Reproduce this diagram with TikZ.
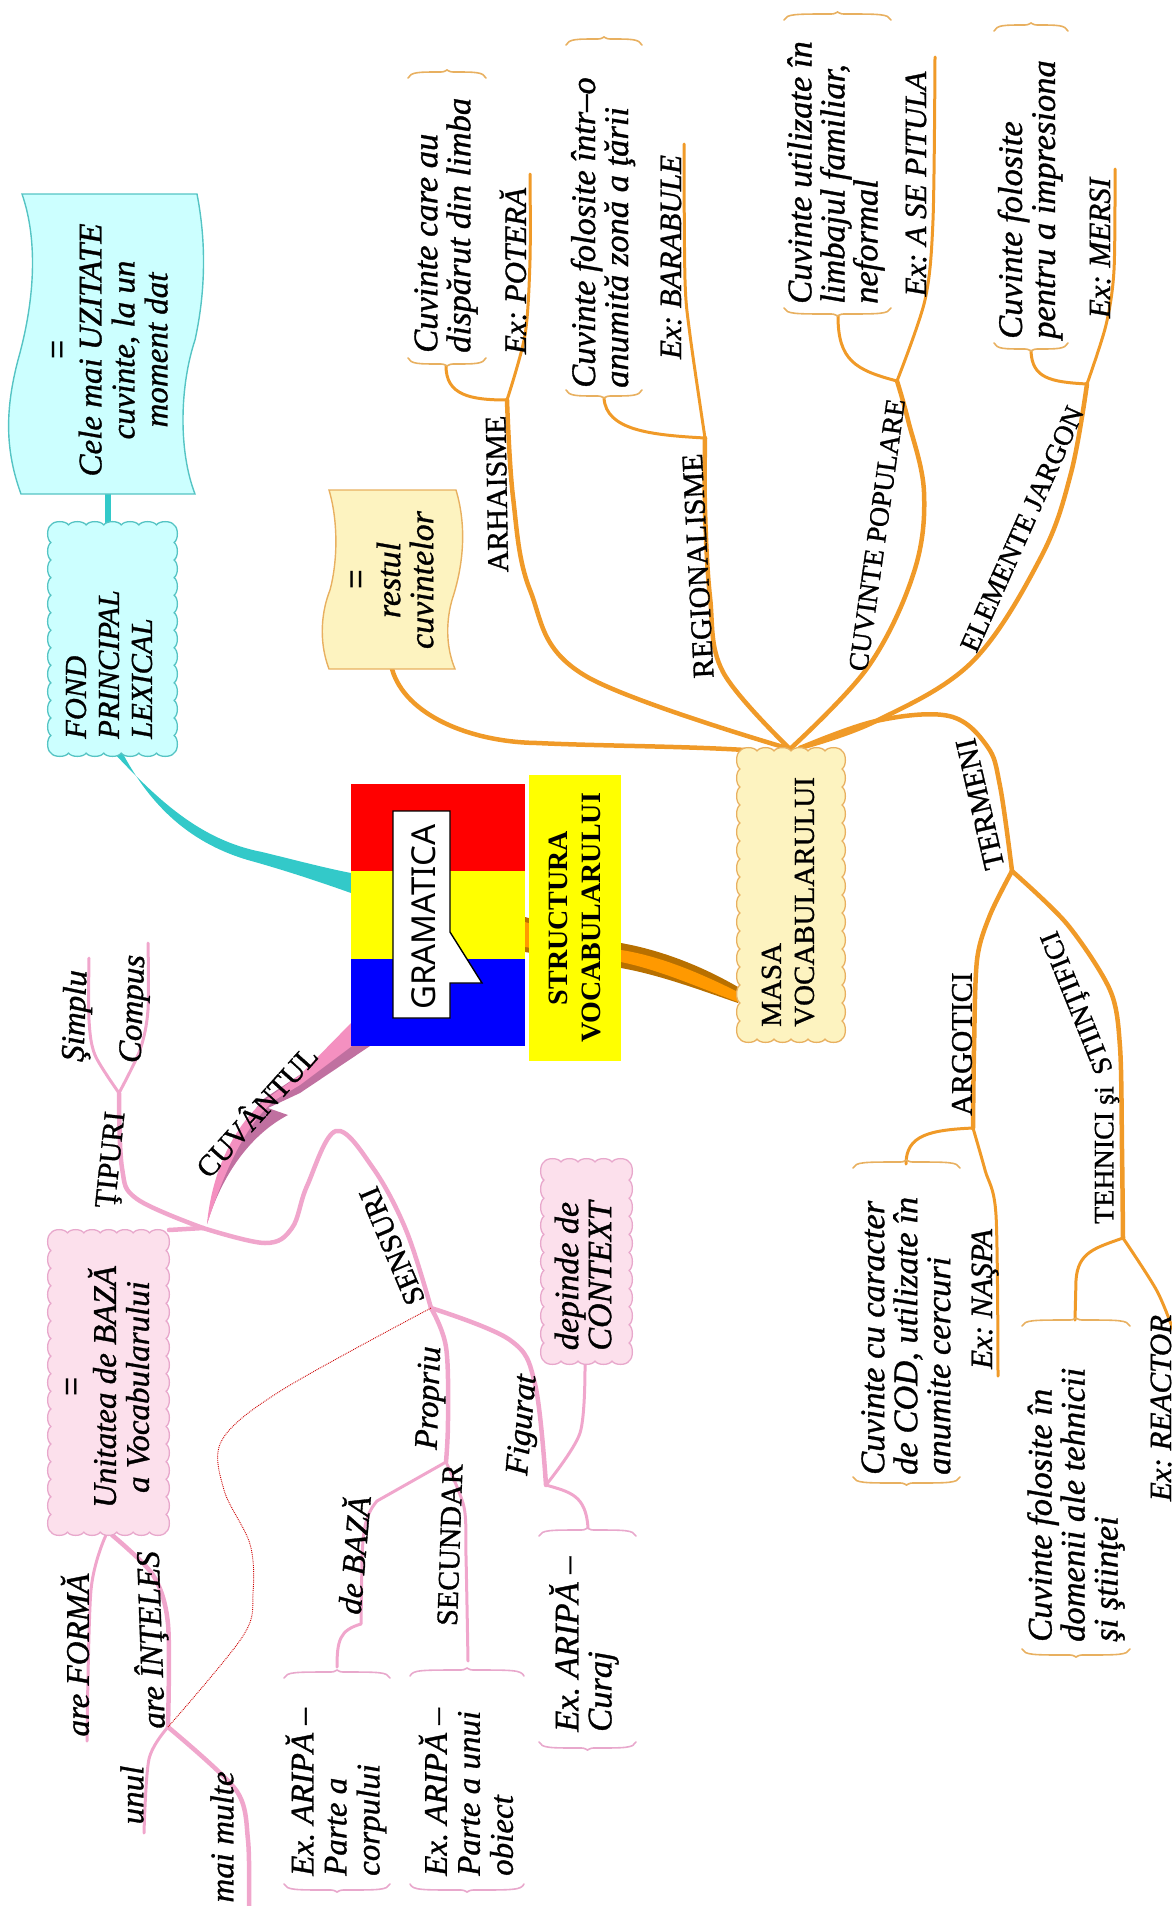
\documentclass[tikz,border=0pt]{standalone}
\usepackage{fontspec}
\setmainfont{Liberation Serif}[UprightFeatures={FakeBold=1},ItalicFeatures={FakeBold=1}]
\newfontfamily\eqfont{Liberation Sans}
\newfontfamily\handfont{Noto Sans}
\definecolor{orl}{HTML}{F09A28}
\definecolor{pil}{HTML}{F0A6CC}
\definecolor{tea}{HTML}{33C9C9}
\definecolor{teab}{HTML}{CCFFFF}
\definecolor{teas}{HTML}{55C4C4}
\definecolor{yelb}{HTML}{FDF3C0}
\definecolor{yels}{HTML}{E8B060}
\definecolor{pib}{HTML}{FCE0EC}
\definecolor{pis}{HTML}{E8A8CC}
\definecolor{flagr}{RGB}{255,0,0}
\definecolor{flagy}{RGB}{255,255,0}
\definecolor{flagb}{RGB}{0,0,255}
\definecolor{ormain}{HTML}{FF9900}
\definecolor{ordark}{HTML}{B87000}
\definecolor{pimain}{HTML}{F490C0}
\definecolor{pidark}{HTML}{C070A0}
\tikzset{
 x=1pt,y=-1pt,
 trunk/.style={line width=4.5pt,line cap=round,line join=round},
 leaf/.style={line width=3pt,line cap=round,line join=round},
 ortr/.style={trunk,draw=orl},
 orlf/.style={leaf,draw=orl},
 pitr/.style={trunk,draw=pil},
 pilf/.style={leaf,draw=pil},
 tx/.style={rotate=90,inner sep=0pt,align=left,anchor=west,font=\fontsize{34.5}{33}\selectfont\itshape},
 txc/.style={rotate=90,inner sep=0pt,align=center,font=\fontsize{33}{33}\selectfont\itshape},
 lab/.style={inner sep=0pt,font=\fontsize{30}{33}\selectfont},
 labs/.style={inner sep=0pt,font=\fontsize{28}{33}\selectfont},
 labi/.style={inner sep=0pt,font=\fontsize{33}{33}\selectfont\itshape},
 labe/.style={inner sep=0pt,font=\fontsize{31}{33}\selectfont\itshape},
 brkt/.style={draw=#1,line width=1.6pt,line cap=round},
 wave/.style={line width=1.4pt},
}
\newcommand{\brk}[5]{% colour, x1, x2, ytop, ybot
 \pgfmathsetmacro{\xm}{(#2+#3)/2}
 \draw[brkt=#1] (#2,#4+8) .. controls (#2+3,#4+2) and (#2+10,#4+2) .. (\xm-6,#4+2) .. controls (\xm-2,#4+2) and (\xm-1,#4) .. (\xm,#4) .. controls (\xm+1,#4) and (\xm+2,#4+2) .. (\xm+6,#4+2) .. controls (#3-10,#4+2) and (#3-3,#4+2) .. (#3,#4+8);
 \draw[brkt=#1] (#2,#5-8) .. controls (#2+3,#5-2) and (#2+10,#5-2) .. (\xm-6,#5-2) .. controls (\xm-2,#5-2) and (\xm-1,#5) .. (\xm,#5) .. controls (\xm+1,#5) and (\xm+2,#5-2) .. (\xm+6,#5-2) .. controls (#3-10,#5-2) and (#3-3,#5-2) .. (#3,#5-8);
}
% scalloped outline: stroke, fill, x1, y1, x2, y2, bumps across, bumps along
\newcommand{\scal}[8]{%
 \pgfmathsetmacro{\dx}{(#5-#3)/#7}
 \pgfmathsetmacro{\dy}{(#6-#4)/#8}
 \draw[draw=#1,fill=#2,line width=1.3pt,line join=round] (#3,#4)
  \foreach \i in {1,...,#7} { .. controls (#3+\i*\dx-.85*\dx,#4-4.5) and (#3+\i*\dx-.15*\dx,#4-4.5) .. (#3+\i*\dx,#4) }
  \foreach \i in {1,...,#8} { .. controls (#5+4.5,#4+\i*\dy-.85*\dy) and (#5+4.5,#4+\i*\dy-.15*\dy) .. (#5,#4+\i*\dy) }
  \foreach \i in {1,...,#7} { .. controls (#5-\i*\dx+.85*\dx,#6+4.5) and (#5-\i*\dx+.15*\dx,#6+4.5) .. (#5-\i*\dx,#6) }
  \foreach \i in {1,...,#8} { .. controls (#3-4.5,#6-\i*\dy+.85*\dy) and (#3-4.5,#6-\i*\dy+.15*\dy) .. (#3,#6-\i*\dy) }
  -- cycle;
}
\begin{document}
\frenchspacing
\begin{tikzpicture}
\useasboundingbox (0,0) rectangle (1171,1906);
% junctions
\coordinate (hub) at (790,749);
\coordinate (hubr) at (800,748);
\coordinate (ar) at (507,400);
\coordinate (re) at (705,438);
\coordinate (cp) at (897,381);
\coordinate (ej) at (1087,384);
\coordinate (tj) at (1012,871);
\coordinate (ag) at (973,1128);
\coordinate (th) at (1123,1238);
\coordinate (cw) at (203,1228);
\coordinate (ti) at (119,1093);
\coordinate (ss) at (431,1308);
\coordinate (pp) at (446,1462);
\coordinate (ff) at (546,1485);
\coordinate (aa) at (168,1727);
% ---- tapered connectors
\fill[tea] (113,752) .. controls (158,800) and (200,840) .. (262,852) .. controls (295,860) and (325,868) .. (351,873) -- (351,893) .. controls (320,882) and (290,872) .. (255,862) .. controls (190,845) and (150,805) .. (122,752) -- cycle;
\fill[tea] (105,494) rectangle (111,524);
\fill[ordark] (525,917) -- (525,952) -- (621,968) .. controls (660,975) and (700,990) .. (738,1003) -- (738,987) .. controls (700,965) and (660,950) .. (621,943) -- cycle;
\fill[ormain] (525,922) -- (525,947) -- (621,962) .. controls (660,970) and (700,988) .. (738,1002) -- (738,992) .. controls (700,973) and (660,956) .. (621,950) -- cycle;
\fill[pidark] (352,1040) -- (370,1046) -- (300,1093) -- (268,1108) -- (288,1115) .. controls (250,1135) and (222,1175) .. (207,1224) .. controls (218,1170) and (240,1130) .. (262,1100) -- cycle;
\fill[pimain] (352,1022) -- (352,1046) -- (300,1085) -- (275,1100) .. controls (245,1125) and (225,1170) .. (207,1224) .. controls (212,1170) and (235,1125) .. (265,1100) -- (300,1075) -- cycle;
% ---- orange branches
\draw[ortr] (392,669) .. controls (405,715) and (470,742) .. (537,743) .. controls (600,746) and (680,746) .. (745,750);
\draw[ortr] plot[smooth,tension=.6] coordinates {(hub) (584,675) (530,590) (513,497) (ar)};
\draw[orlf] (ar) .. controls (470,400) and (446,395) .. (446,366);
\draw[orlf] plot[smooth,tension=.5] coordinates {(ar) (525,335) (530,260) (530,174)};
\draw[ortr] plot[smooth,tension=.6] coordinates {(hub) (723,672) (710,597) (705,510) (re)};
\draw[orlf] (re) .. controls (650,435) and (606,430) .. (604,398);
\draw[orlf] plot[smooth,tension=.5] coordinates {(re) (690,335) (685,280) (684,144)};
\draw[ortr] plot[smooth,tension=.6] coordinates {(hub) (868,667) (914,572) (924,492) (908,420) (cp)};
\draw[orlf] (cp) .. controls (855,370) and (838,360) .. (838,316);
\draw[orlf] plot[smooth,tension=.5] coordinates {(cp) (925,300) (933,220) (935,57)};
\draw[ortr] plot[smooth,tension=.6] coordinates {(hubr) (876,721) (972,662) (1041,557) (1071,473) (ej)};
\draw[orlf] (ej) .. controls (1050,382) and (1032,378) .. (1031,351);
\draw[orlf] plot[smooth,tension=.5] coordinates {(ej) (1106,325) (1114,270) (1115,169)};
\draw[ortr] plot[smooth,tension=.6] coordinates {(hubr) (876,721) (949,716) (987,746) (1000,786) (tj)};
\draw[ortr] plot[smooth,tension=.5] coordinates {(tj) (990,915) (977,960) (974,1050) (ag)};
\draw[orlf] (ag) .. controls (930,1130) and (906,1135) .. (906,1164);
\draw[orlf] plot[smooth,tension=.5] coordinates {(ag) (985,1170) (996,1215) (998,1376)};
\draw[ortr] plot[smooth,tension=.5] coordinates {(tj) (1067,924) (1110,990) (1120,1047) (1122,1150) (th)};
\draw[orlf] (th) .. controls (1095,1248) and (1078,1252) .. (1076,1280) -- (1075,1320);
\draw[orlf] plot[smooth,tension=.5] coordinates {(th) (1157,1291) (1175,1335)};
% ---- pink branches
\draw[pitr] (169,1230) -- (cw);
\draw[pitr] plot[smooth,tension=.6] coordinates {(cw) (137,1199) (122,1168) (ti)};
\draw[pilf] plot[smooth,tension=.5] coordinates {(ti) (95,1055) (89,1020) (89,958)};
\draw[pilf] plot[smooth,tension=.5] coordinates {(ti) (140,1050) (148,1010) (148,943)};
\draw[pitr] plot[smooth,tension=.6] coordinates {(cw) (265,1243) (292,1228) (307,1186) (336,1131) (373,1168) (406,1230) (ss)};
\draw[pitr] plot[smooth,tension=.6] coordinates {(ss) (446,1347) (448,1420) (pp)};
\draw[pitr] plot[smooth,tension=.6] coordinates {(ss) (510,1340) (535,1384) (ff)};
\draw[pilf] plot[smooth,tension=.5] coordinates {(ff) (580,1433) (585,1365)};
\draw[pilf] (ff) .. controls (570,1492) and (586,1495) .. (588,1528);
\draw[pilf] (pp) -- (377,1501) .. controls (365,1515) and (363,1530) .. (362,1560) -- (361,1624) .. controls (340,1630) and (337,1640) .. (337,1667);
\draw[pilf] plot[smooth,tension=.5] coordinates {(pp) (464,1507) (466,1556) (468,1661)};
\draw[pilf] plot[smooth,tension=.5] coordinates {(106,1535) (91,1590) (87,1741)};
\draw[pitr] plot[smooth,tension=.5] coordinates {(112,1535) (153,1575) (168,1624) (aa)};
\draw[pilf] plot[smooth,tension=.5] coordinates {(aa) (149,1759) (144,1833)};
\draw[pitr] plot[smooth,tension=.5] coordinates {(aa) (236,1790) (248,1840) (249,1906)};
% dotted link
\draw[red!80!black,line width=.9pt,densely dotted] plot[smooth,tension=.55] coordinates {(ss) (282,1390) (222,1440) (224,1490) (250,1544) (253,1593) (243,1636) (aa)};
% ---- flag
\fill[flagr] (351,784) rectangle (525,871);
\fill[flagy] (351,871) rectangle (525,959);
\fill[flagb] (351,959) rectangle (525,1046);
\draw[black,line width=1.4pt,fill=white] (393,811) -- (450,811) -- (450,932) -- (482,983) -- (450,983) -- (450,1018) -- (393,1018) -- cycle;
\node[rotate=90,inner sep=0pt,font=\handfont\fontsize{33}{36}\selectfont] (gram) at (424,917) {GRAMATICA};
\node[rotate=90,fill=flagy,minimum width=286pt,minimum height=92pt,inner sep=0pt,align=center,font=\fontsize{28}{33}\selectfont\bfseries] (struct) at (575,918) {STRUCTURA\\VOCABULARULUI};
% ---- wave boxes
\draw[wave,draw=teas,fill=teab] (22,194) -- (197,194) .. controls (206,240) and (206,290) .. (195,340) .. controls (180,385) and (178,450) .. (195,494) -- (21,494) .. controls (5,450) and (5,410) .. (18,360) .. controls (35,300) and (38,240) .. (22,194) -- cycle;
\node[txc] (cele) at (110,350) {{\eqfont\upshape =}\\Cele mai UZITATE\\cuvinte, la un\\moment dat};
\draw[wave,draw=yels,fill=yelb] (329,490) -- (456,490) .. controls (468,530) and (462,570) .. (452,600) .. controls (445,625) and (447,650) .. (455,669) -- (329,669) .. controls (318,640) and (322,610) .. (330,590) .. controls (338,560) and (338,520) .. (329,490) -- cycle;
\node[txc,font=\fontsize{34}{33}\selectfont\itshape] (rest) at (392,580) {{\eqfont\upshape =}\\restul\\cuvintelor};
% ---- scalloped boxes
\scal{teas}{teab}{51}{525}{174}{753}{7}{13}
\node[tx,font=\fontsize{30.5}{33}\selectfont\itshape] (fond) at (109,739) {FOND\\PRINCIPAL\\LEXICAL};
\scal{yels}{yelb}{740}{751}{842}{1039}{6}{16}
\node[tx,font=\fontsize{29}{33}\selectfont] (masa) at (788,1027) {MASA\\VOCABULARULUI};
\scal{pis}{pib}{51}{1233}{166}{1532}{7}{17}
\node[txc] (unit) at (108,1387) {{\eqfont\upshape =}\\Unitatea de BAZĂ\\a Vocabularului};
\scal{pis}{pib}{544}{1162}{629}{1361}{5}{11}
\node[txc,font=\fontsize{34}{33}\selectfont\itshape] (ctx) at (583,1276) {depinde de\\CONTEXT};
% ---- brackets
\brk{yels}{408}{486}{70}{366}
\brk{yels}{566}{642}{37}{398}
\brk{yels}{784}{891}{12}{316}
\brk{yels}{994}{1068}{23}{351}
\brk{yels}{853}{960}{1160}{1485}
\brk{yels}{1022}{1130}{1318}{1657}
\brk{pis}{539}{636}{1528}{1750}
\brk{pis}{284}{390}{1670}{1892}
\brk{pis}{410}{524}{1668}{1892}
% ---- texts
\node[tx] (t1) at (446,353) {Cuvinte care au\\dispărut din limba};
\node[tx] (t2) at (603,388) {Cuvinte folosite într–o\\anumită zonă a ţării};
\node[tx] (t3) at (836,304) {Cuvinte utilizate în\\limbajul familiar,\\neformal};
\node[tx] (t4) at (1030,339) {Cuvinte folosite\\pentru a impresiona};
\node[tx] (t5) at (906,1475) {Cuvinte cu caracter\\de COD, utilizate în\\anumite cercuri};
\node[tx] (t6) at (1076,1642) {Cuvinte folosite în\\domenii ale tehnicii\\şi ştiinţei};
\node[tx] (t7) at (584,1732) {Ex. ARIPĂ –\\Curaj};
\node[tx,font=\fontsize{33}{33}\selectfont\itshape] (t8) at (336,1876) {Ex. ARIPĂ –\\Parte a\\corpului};
\node[tx,font=\fontsize{33}{33}\selectfont\itshape] (t9) at (466,1876) {Ex. ARIPĂ –\\Parte a unui\\obiect};
\node[labe,rotate=90] (e1) at (513,271) {Ex: POTERĂ};
\node[labe,rotate=90] (e2) at (671,257) {Ex: BARABULE};
\node[labe,rotate=90] (e3) at (916,184) {Ex: A SE PITULA};
\node[labe,rotate=90] (e4) at (1100,248) {Ex: MERSI};
\node[labe,rotate=90] (e5) at (985,1299) {Ex: NAŞPA};
\node[labe,rotate=90] (e6) at (1161,1408) {Ex: REACTOR};
\node[lab,rotate=91] (l1) at (497,494) {ARHAISME};
\node[lab,rotate=93] (l2) at (698,566) {REGIONALISME};
\node[labs,rotate=82] (l3) at (877,535) {CUVINTE POPULARE};
\node[labs,rotate=66] (l4) at (1022,529) {ELEMENTE JARGON};
\node[lab,rotate=103] (l5) at (980,804) {TERMENI};
\node[lab,rotate=90] (l6) at (962,1044) {ARGOTICI};
\node[labs,rotate=90] (l7) at (1107,1155) {TEHNICI şi};
\node[labs,rotate=112] (l7b) at (1079,1002) {STIINŢIFICI};
\node[lab,rotate=48] (l8) at (255,1110) {CUVÂNTUL};
\node[lab,rotate=84] (l9) at (113,1160) {ŢIPURI};
\node[labi,rotate=88] (l10) at (77,1016) {Şimplu};
\node[labi,rotate=88] (l11) at (135,1009) {Compus};
\node[lab,rotate=113] (l12) at (392,1246) {SENSURI};
\node[labi,rotate=88] (l13) at (431,1398) {Propriu};
\node[labi,rotate=85] (l14) at (524,1425) {Figurat};
\node[labi,rotate=85] (l15) at (352,1555) {de BAZĂ};
\node[lab,rotate=88] (l16) at (450,1545) {SECUNDAR};
\node[labi,rotate=90] (l17) at (75,1655) {are FORMĂ};
\node[labi,rotate=92] (l18) at (151,1640) {are ÎNŢELES};
\node[labi,rotate=90] (l19) at (132,1795) {unul};
\node[labi,rotate=90] (l20) at (222,1837) {mai multe};
\end{tikzpicture}
\end{document}
